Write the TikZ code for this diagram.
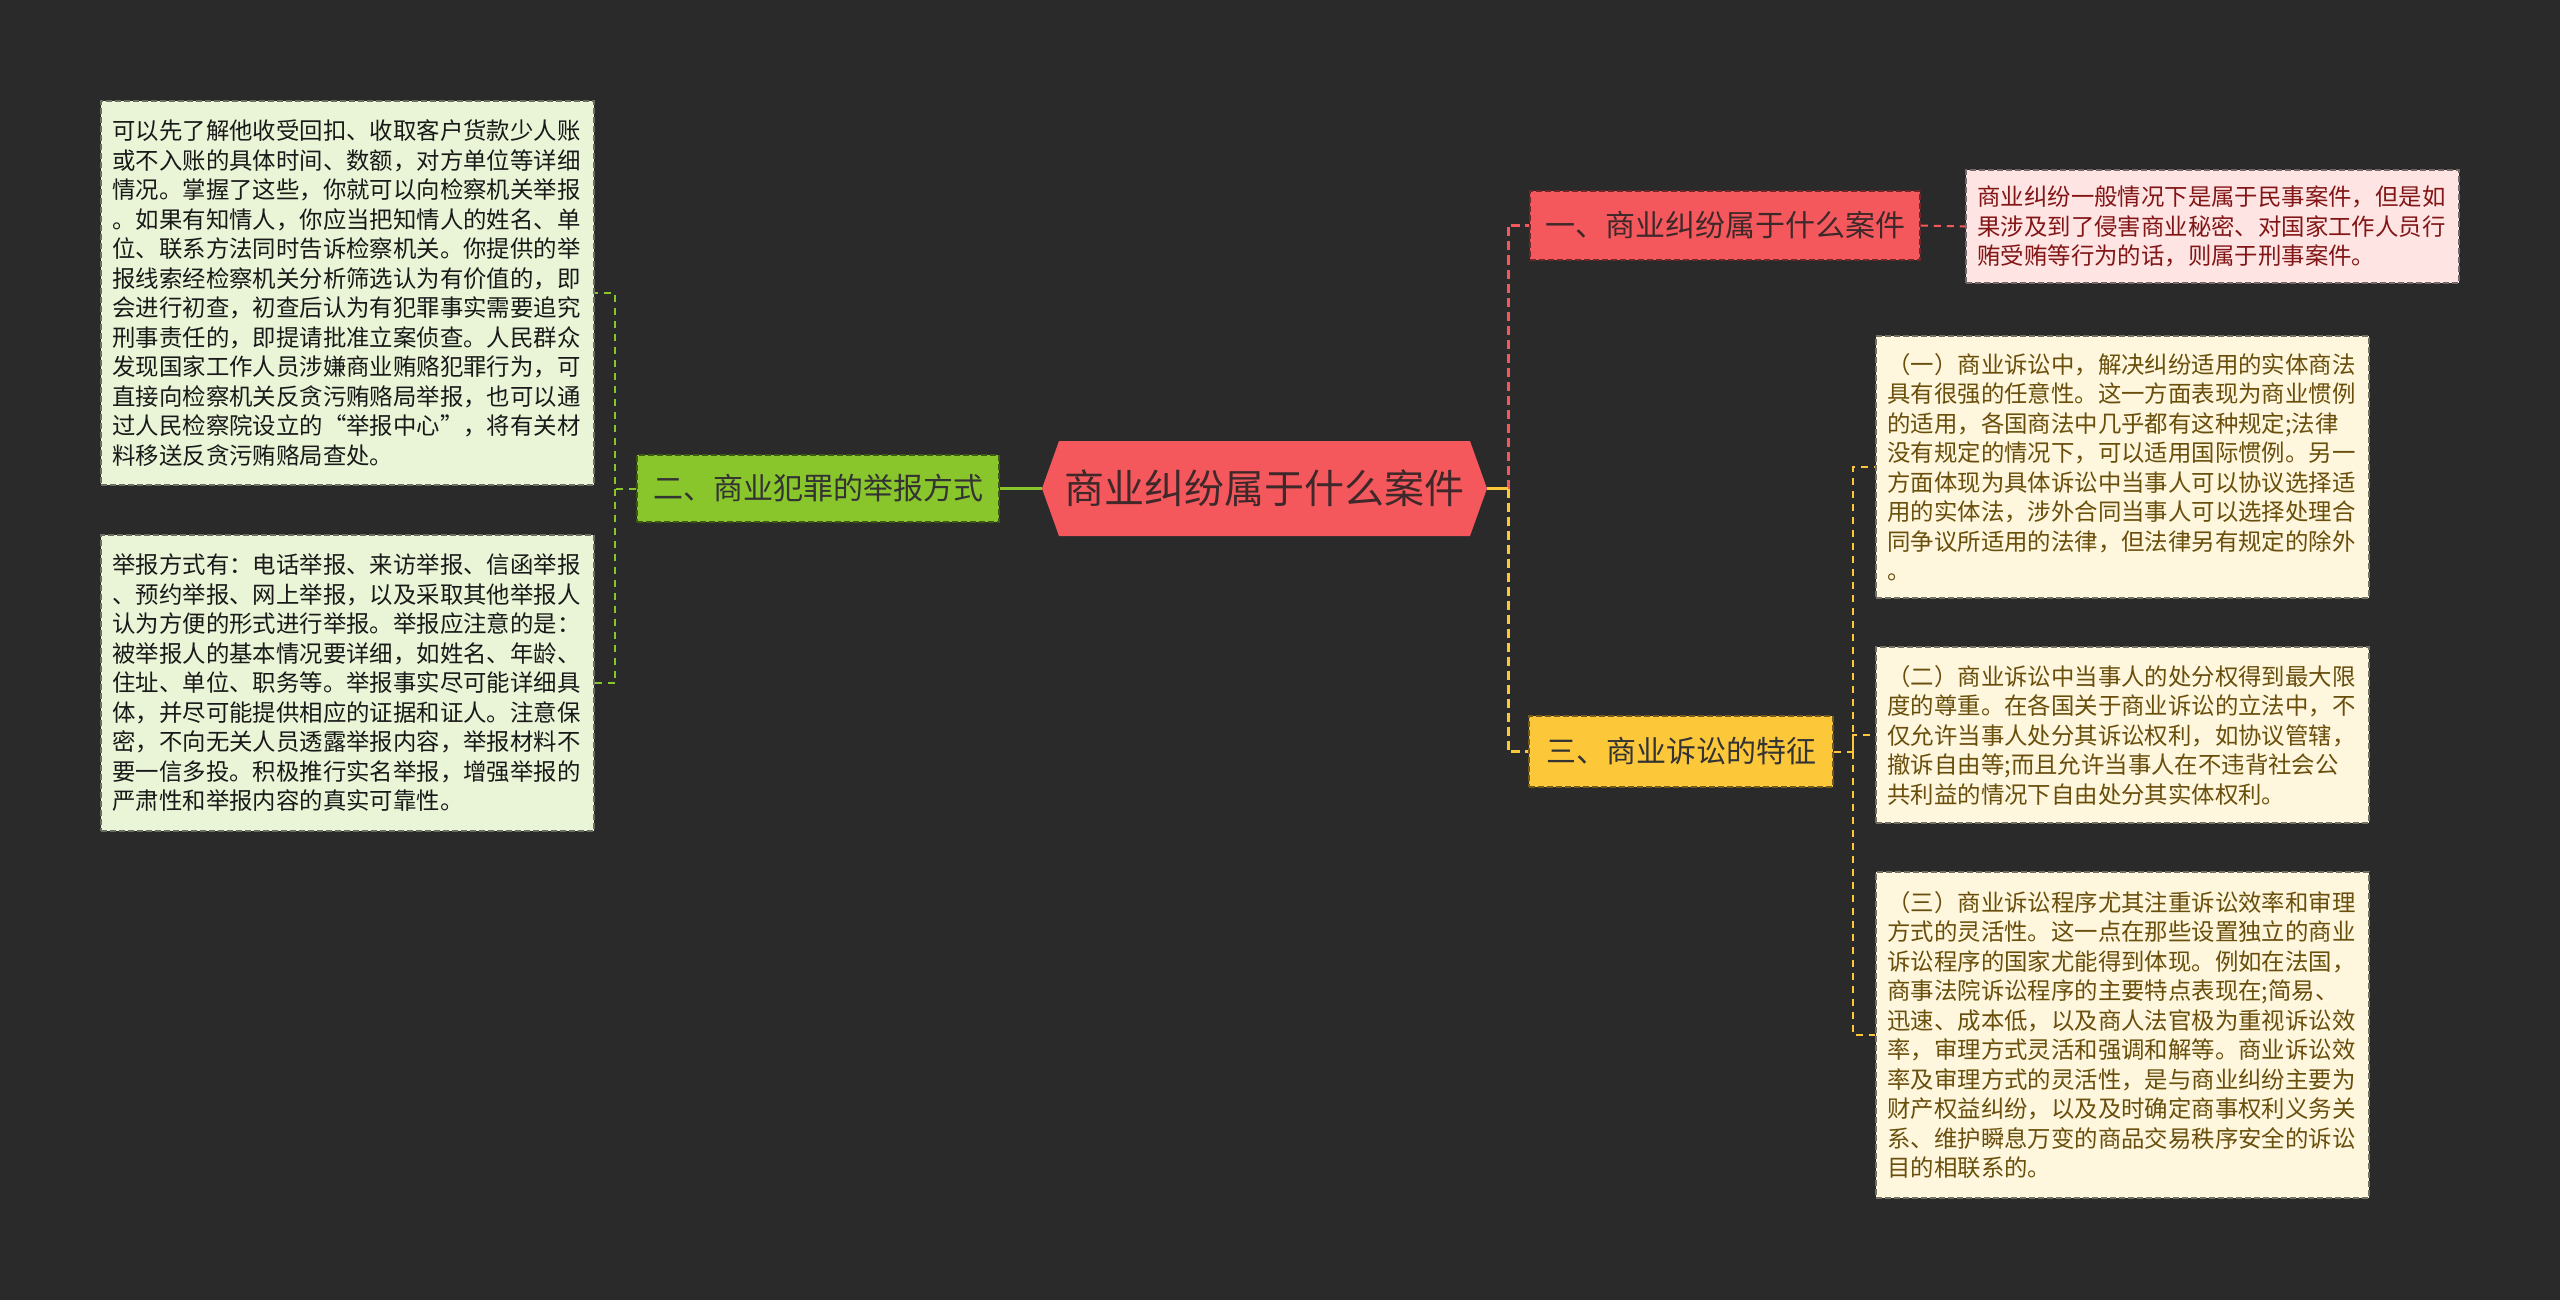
\documentclass[tikz,border=0pt]{standalone}
\usepackage{fontspec}
\setmainfont{Noto Sans CJK SC}
\usepackage{xcolor}
\definecolor{ColBack}{RGB}{42,42,42}
\definecolor{ColRed}{RGB}{245,88,92}
\definecolor{ColGreen}{RGB}{137,198,44}
\definecolor{ColYellow}{RGB}{252,200,58}
\definecolor{ColPink}{RGB}{255,228,228}
\definecolor{ColPale}{RGB}{234,245,216}
\definecolor{ColCream}{RGB}{254,247,221}
\definecolor{ColRootText}{RGB}{62,40,42}
\definecolor{ColPinkText}{RGB}{130,22,22}
\definecolor{ColCreamText}{RGB}{105,78,12}
\usepackage{tikz}
\tikzstyle{Root}=[inner sep=0pt,minimum width=445pt,minimum height=95pt,
font=\fontsize{40pt}{48pt}\selectfont,text=ColRootText,
path picture={\fill[ColRed](path picture bounding box.west)
--([xshift=17pt]path picture bounding box.north west)
--([xshift=-17pt]path picture bounding box.north east)
--(path picture bounding box.east)
--([xshift=-17pt]path picture bounding box.south east)
--([xshift=17pt]path picture bounding box.south west)--cycle;}]
\tikzstyle{Branch}=[line width=1.5pt,dash pattern=on 6pt off 3pt,inner sep=0pt,
font=\fontsize{30pt}{36pt}\selectfont]
\tikzstyle{Leaf}=[line width=1.2pt,dash pattern=on 6pt off 3pt,text width=470pt,
inner xsep=11.5pt,inner ysep=0pt,align=left,font=\fontsize{23.4pt}{29.5pt}\selectfont]
\tikzstyle{Edge}=[line width=3pt]
\tikzstyle{SubEdge}=[line width=2pt,dash pattern=on 7pt off 6pt]

\begin{document}
\begin{tikzpicture}[x=1pt,y=-1pt]
            \fill[ColBack](0,0)rectangle(2560,1300);
            \node[Root](r)at(1264.5,488.5){商业纠纷属于什么案件};
            \node[Branch,fill=ColRed,draw=ColRed!45!black,text=ColRootText,
                minimum width=390pt,minimum height=69pt](b1)at(1725,225.5)
                {一、商业纠纷属于什么案件};
            \node[Branch,fill=ColGreen,draw=ColGreen!45!black,text=black!80,
                minimum width=362pt,minimum height=67pt](b2)at(818,488.5)
                {二、商业犯罪的举报方式};
            \node[Branch,fill=ColYellow,draw=ColYellow!45!black,text=black!80,
                minimum width=304pt,minimum height=71pt](b3)at(1681,751.5)
                {三、商业诉讼的特征};
            \node[Leaf,fill=ColPink,draw=ColPink!45!black,text=ColPinkText,
                minimum height=113pt](l1)at(2212.5,226.5)
                {商业纠纷一般情况下是属于民事案件，但是如\\
                果涉及到了侵害商业秘密、对国家工作人员行\\
                贿受贿等行为的话，则属于刑事案件。};
            \node[Leaf,fill=ColPale,draw=ColPale!45!black,text=black!90,
                minimum height=384pt](l21)at(347.5,293)
                {可以先了解他收受回扣、收取客户货款少人账\\
                或不入账的具体时间、数额，对方单位等详细\\
                情况。掌握了这些，你就可以向检察机关举报\\
                。如果有知情人，你应当把知情人的姓名、单\\
                位、联系方法同时告诉检察机关。你提供的举\\
                报线索经检察机关分析筛选认为有价值的，即\\
                会进行初查，初查后认为有犯罪事实需要追究\\
                刑事责任的，即提请批准立案侦查。人民群众\\
                发现国家工作人员涉嫌商业贿赂犯罪行为，可\\
                直接向检察机关反贪污贿赂局举报，也可以通\\
                过人民检察院设立的“举报中心”，将有关材\\
                料移送反贪污贿赂局查处。};
            \node[Leaf,fill=ColPale,draw=ColPale!45!black,text=black!90,
                minimum height=296pt](l22)at(347.5,683)
                {举报方式有：电话举报、来访举报、信函举报\\
                、预约举报、网上举报，以及采取其他举报人\\
                认为方便的形式进行举报。举报应注意的是：\\
                被举报人的基本情况要详细，如姓名、年龄、\\
                住址、单位、职务等。举报事实尽可能详细具\\
                体，并尽可能提供相应的证据和证人。注意保\\
                密，不向无关人员透露举报内容，举报材料不\\
                要一信多投。积极推行实名举报，增强举报的\\
                严肃性和举报内容的真实可靠性。};
            \node[Leaf,fill=ColCream,draw=ColCream!45!black,text=ColCreamText,
                minimum height=262pt](l31)at(2122.5,467)
                {（一）商业诉讼中，解决纠纷适用的实体商法\\
                具有很强的任意性。这一方面表现为商业惯例\\
                的适用，各国商法中几乎都有这种规定;法律\\
                没有规定的情况下，可以适用国际惯例。另一\\
                方面体现为具体诉讼中当事人可以协议选择适\\
                用的实体法，涉外合同当事人可以选择处理合\\
                同争议所适用的法律，但法律另有规定的除外\\
                。};
            \node[Leaf,fill=ColCream,draw=ColCream!45!black,text=ColCreamText,
                minimum height=176pt](l32)at(2122.5,735)
                {（二）商业诉讼中当事人的处分权得到最大限\\
                度的尊重。在各国关于商业诉讼的立法中，不\\
                仅允许当事人处分其诉讼权利，如协议管辖，\\
                撤诉自由等;而且允许当事人在不违背社会公\\
                共利益的情况下自由处分其实体权利。};
            \node[Leaf,fill=ColCream,draw=ColCream!45!black,text=ColCreamText,
                minimum height=326pt](l33)at(2122.5,1035)
                {（三）商业诉讼程序尤其注重诉讼效率和审理\\
                方式的灵活性。这一点在那些设置独立的商业\\
                诉讼程序的国家尤能得到体现。例如在法国，\\
                商事法院诉讼程序的主要特点表现在;简易、\\
                迅速、成本低，以及商人法官极为重视诉讼效\\
                率，审理方式灵活和强调和解等。商业诉讼效\\
                率及审理方式的灵活性，是与商业纠纷主要为\\
                财产权益纠纷，以及及时确定商事权利义务关\\
                系、维护瞬息万变的商品交易秩序安全的诉讼\\
                目的相联系的。};
            \coordinate(jr)at(1508,488.5);
            \coordinate(jg)at(615,488.5);
            \coordinate(jy)at(1853,751.5);
            \draw[Edge,ColGreen](r.west)--(b2.east);
            \draw[Edge,ColRed,dash pattern=on 9pt off 5pt](jr)|-(b1.west);
            \draw[Edge,ColYellow,dash pattern=on 9pt off 5pt](jr)|-(b3.west);
            \draw[Edge,ColYellow](r.east)--(jr);
            \draw[SubEdge,ColRed](b1.east)--(l1.west);
            \draw[SubEdge,ColGreen](b2.west)--(jg)|-(l21.east);
            \draw[SubEdge,ColGreen](jg)|-(l22.east);
            \draw[SubEdge,ColYellow](b3.east)--(jy)|-(l31.west);
            \draw[SubEdge,ColYellow](jy)|-(l32.west);
            \draw[SubEdge,ColYellow](jy)|-(l33.west);
        \end{tikzpicture}
\end{document}
